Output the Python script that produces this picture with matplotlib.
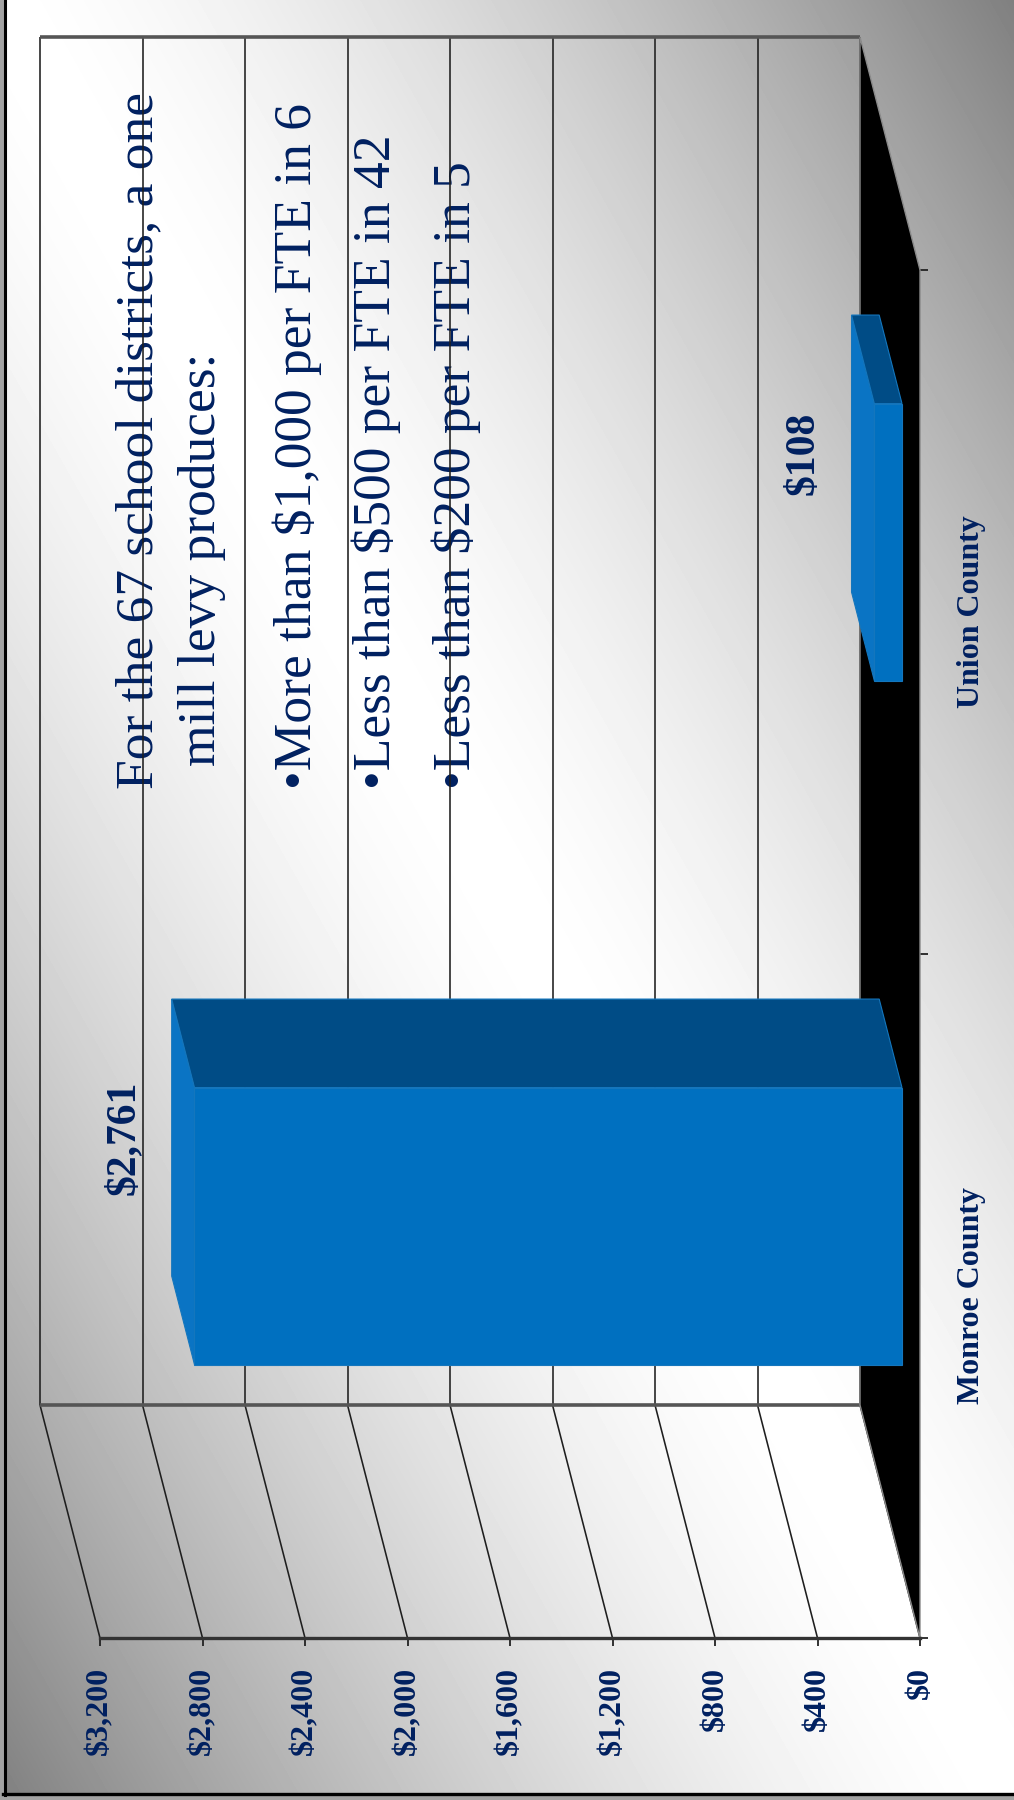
import numpy as np
import matplotlib
matplotlib.use("Agg")
import matplotlib.pyplot as plt
from matplotlib.patches import Polygon, Rectangle

# ---- data -------------------------------------------------------------
categories = ["Monroe County", "Union County"]
values = [2761, 108]
value_labels = ["$2,761", "$108"]
value_ticks = [0, 400, 800, 1200, 1600, 2000, 2400, 2800, 3200]
value_tick_labels = ["$0", "$400", "$800", "$1,200", "$1,600",
                     "$2,000", "$2,400", "$2,800", "$3,200"]
note_lines = ["For the 67 school districts, a one", "mill levy produces:"]
note_bullets = ["More than $1,000 per FTE in 6",
                "Less than $500 per FTE in 42",
                "Less than $200 per FTE in 5"]

# ---- style ------------------------------------------------------------
NAVY = "#002060"
SERIF = "Liberation Serif"
GRID = "#1e1e1e"
FRONT = "#0070C0"
TOP = "#004C86"
END = "#0A74C4"

W, H = 1014, 1800
fig = plt.figure(figsize=(W / 100, H / 100), dpi=100)

# ---- background: diagonal grey-white-grey wash ------------------------
bg = fig.add_axes([0, 0, 1, 1], zorder=-1)
bg.set_axis_off()
xx, yy = np.meshgrid(np.linspace(0, 1, W), np.linspace(0, 1, H))
t = (xx + (1 - yy)) / 2
shade = 1 - (127 / 255) * np.abs(2 * t - 1) ** 1.5
bg.imshow(shade, cmap="gray", vmin=0, vmax=1, extent=(0, W, H, 0),
          aspect="auto", interpolation="bilinear")
bg.set_xlim(0, W)
bg.set_ylim(H, 0)
# slide frame on the left and bottom edges
bg.add_patch(Rectangle((0, 0), 3, H, color="#a3a3a3", zorder=2))
bg.add_patch(Rectangle((0, H - 5), W, 5, color="#a3a3a3", zorder=2))
bg.plot([4.5, 4.5], [0, H - 5], color="black", lw=2.2, zorder=3)
bg.plot([3, W], [H - 6, H - 6], color="black", lw=2.4, zorder=3)

# ---- text block (drawn under the wall grid) ---------------------------
txt_kw = dict(rotation=90, rotation_mode="anchor", ha="left", va="baseline",
              fontsize=38.5, family=SERIF, color=NAVY, zorder=5)
bg.text(152, 789, note_lines[0], **txt_kw)
bg.text(215, 766, note_lines[1], **txt_kw)
for xb, line in zip([311, 390, 470], note_bullets):
    bg.text(xb, 789, "\u2022" + line, **txt_kw)

# ---- chart axes: x = value (reversed), y = category -------------------
ax = fig.add_axes([100 / W, 162 / H, 820 / W, 1368 / H])
ax.set_xlim(3200, 0)
ax.set_ylim(-0.5, 1.5)
ax.patch.set_alpha(0)

# oblique depth vector (back plane relative to front plane), data units
DX = 60 / 820 * 3200
DY = 233 / 684


def proj(v, c, d):
    """Point at value v, category c, depth d (0 = back wall, 1 = front)."""
    return (v + (1 - d) * DX, c + (1 - d) * DY)


line_kw = dict(clip_on=False, solid_capstyle="butt")

# back wall grid
for v in value_ticks:
    x0, y0 = proj(v, -0.5, 0)
    _, y1 = proj(v, 1.5, 0)
    ax.plot([x0, x0], [y0, y1], color=GRID, lw=1.15, zorder=2, **line_kw)
# side wall grid
for v in value_ticks:
    p0 = proj(v, -0.5, 0)
    p1 = proj(v, -0.5, 1)
    ax.plot([p0[0], p1[0]], [p0[1], p1[1]], color=GRID, lw=1.15, zorder=2,
            **line_kw)
# back wall top / bottom edges
for c in (-0.5, 1.5):
    a = proj(0, c, 0)
    b = proj(3200, c, 0)
    ax.plot([a[0], b[0]], [a[1], b[1]], color="#555555", lw=2.6, zorder=2,
            **line_kw)

# floor
floor = Polygon([proj(0, -0.5, 0), proj(0, -0.5, 1), proj(0, 1.5, 1),
                 proj(0, 1.5, 0)], closed=True, facecolor="black",
                edgecolor="#8a8a8a", lw=1.0, zorder=3, clip_on=False)
ax.add_patch(floor)

# 3-D bars
half = 0.2025
d0, d1 = 0.32, 0.70
for c, v in enumerate(values):
    end_face = [proj(v, c - half, d0), proj(v, c + half, d0),
                proj(v, c + half, d1), proj(v, c - half, d1)]
    top_face = [proj(0, c + half, d0), proj(v, c + half, d0),
                proj(v, c + half, d1), proj(0, c + half, d1)]
    front_face = [proj(0, c - half, d1), proj(v, c - half, d1),
                  proj(v, c + half, d1), proj(0, c + half, d1)]
    for face, col in ((end_face, END), (top_face, TOP), (front_face, FRONT)):
        ax.add_patch(Polygon(face, closed=True, facecolor=col,
                             edgecolor="#1476bd", lw=0.8, zorder=4,
                             clip_on=False))

# value labels beside the bar ends
for c, (v, lab) in enumerate(zip(values, value_labels)):
    ax.annotate(lab, xy=proj(v, c, d0), xytext=(-27, 0),
                textcoords="offset points", rotation=90,
                rotation_mode="anchor", ha="center", va="baseline",
                fontsize=30, fontweight="bold", family=SERIF, color=NAVY,
                zorder=6, annotation_clip=False)

# ---- axes decoration --------------------------------------------------
for side in ("top", "left", "right"):
    ax.spines[side].set_visible(False)
ax.spines["bottom"].set_color("#333333")
ax.spines["bottom"].set_linewidth(2.4)
ax.spines["bottom"].set_zorder(5)

ax.set_xticks(value_ticks)
ax.set_xticklabels(value_tick_labels, rotation=90, fontsize=23,
                   fontweight="bold", family=SERIF, color=NAVY)
ax.tick_params(axis="x", direction="out", length=5.8, width=1.3,
               color="#222222", pad=15)

ax.yaxis.tick_right()
ax.set_yticks([-0.5, 0.5, 1.5])
ax.set_yticklabels([])
ax.set_yticks([0, 1], minor=True)
ax.set_yticklabels(categories, minor=True, rotation=90, va="center",
                   fontsize=23, fontweight="bold", family=SERIF, color=NAVY)
ax.tick_params(axis="y", which="major", direction="out", length=5.8,
               width=1.3, color="#222222", left=False, right=True)
ax.tick_params(axis="y", which="minor", length=0, pad=27, left=False,
               right=True, labelleft=False, labelright=True)

fig.savefig("out.png", dpi=100)
